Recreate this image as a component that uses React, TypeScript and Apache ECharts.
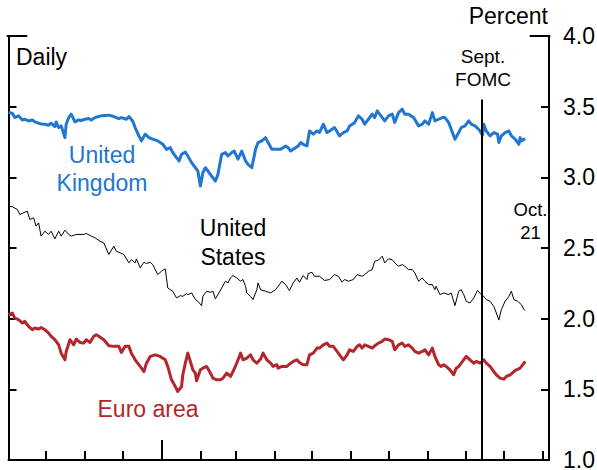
import React, { useEffect, useRef } from 'react';
import * as echarts from 'echarts';

// x axis: calendar days counted from the first month start shown
const monthTickDays = [30, 61, 91, 153, 181, 212, 242, 273, 303, 334, 365, 395, 426];
const yearTickDays = [122];
const axisMaxDay = 431;
const fomcDay = 377.5;
const fomcTop = 3.55;
const yMin = 1.0;
const yMax = 4.0;
const yStep = 0.5;

const ukDays = [0,3,5,8,11,13,16,19,21,24,26,29,32,34,37,38,40,42,45,46,48,50,53,56,58,61,64,66,69,74,80,84,88,90,94,96,99,101,104,106,109,112,115,119,123,126,129,131,134,136,138,141,143,146,149,151,153,155,157,159,162,165,167,170,173,175,178,180,183,186,189,191,194,197,199,202,205,207,210,213,217,221,223,225,227,231,233,235,238,240,243,246,248,251,254,256,260,264,267,270,272,276,279,282,284,287,290,292,294,297,300,303,306,308,311,314,316,319,323,327,330,332,335,338,340,343,346,348,351,353,356,359,361,364,367,369,372,375,378,379,381,384,387,390,391,393,396,399,401,404,407,408,409,412];
const ukValues = [3.458,3.454,3.423,3.435,3.406,3.411,3.399,3.406,3.392,3.383,3.378,3.376,3.369,3.383,3.359,3.392,3.352,3.364,3.281,3.376,3.423,3.447,3.392,3.406,3.402,3.411,3.416,3.406,3.423,3.435,3.44,3.43,3.416,3.423,3.411,3.43,3.399,3.352,3.293,3.258,3.305,3.281,3.27,3.258,3.234,3.198,3.21,3.175,3.139,3.116,3.163,3.178,3.151,3.104,3.068,3.045,2.938,3.033,3.068,3.045,3.009,2.974,3.021,3.163,3.175,3.151,3.175,3.186,3.128,3.186,3.116,3.092,3.068,3.198,3.246,3.258,3.281,3.246,3.198,3.198,3.198,3.222,3.21,3.186,3.198,3.222,3.246,3.234,3.222,3.328,3.305,3.328,3.317,3.376,3.317,3.328,3.352,3.293,3.317,3.328,3.364,3.387,3.435,3.411,3.376,3.411,3.447,3.423,3.47,3.435,3.399,3.435,3.447,3.388,3.458,3.482,3.447,3.447,3.423,3.364,3.376,3.399,3.376,3.458,3.399,3.411,3.423,3.423,3.388,3.34,3.269,3.317,3.352,3.364,3.4,3.376,3.364,3.34,3.298,3.376,3.328,3.293,3.317,3.305,3.246,3.293,3.317,3.328,3.293,3.27,3.234,3.281,3.258,3.274];

const usDays = [0,3,7,9,12,15,17,20,22,24,26,29,32,34,37,40,42,45,48,50,54,60,62,66,69,73,76,80,84,86,89,92,96,98,101,102,105,108,110,113,115,119,122,125,127,129,131,134,137,139,142,143,146,149,151,154,155,158,161,163,165,167,170,173,175,177,179,182,185,187,189,190,193,195,198,199,201,205,209,213,215,218,221,224,227,230,232,235,238,239,242,244,248,252,256,260,263,266,268,271,275,278,282,284,287,290,292,295,296,298,300,303,306,308,311,314,316,319,322,324,327,330,332,335,338,340,341,344,347,351,353,356,359,361,363,365,368,371,374,377,379,381,384,387,389,391,393,396,399,401,403,406,409,411,412];
const usValues = [2.795,2.792,2.773,2.737,2.749,2.761,2.702,2.714,2.655,2.678,2.584,2.619,2.596,2.619,2.565,2.619,2.584,2.626,2.596,2.584,2.596,2.596,2.603,2.584,2.572,2.548,2.536,2.454,2.513,2.477,2.466,2.454,2.395,2.418,2.395,2.423,2.36,2.399,2.39,2.399,2.383,2.312,2.336,2.352,2.217,2.205,2.194,2.147,2.163,2.158,2.177,2.17,2.182,2.135,2.123,2.092,2.158,2.194,2.187,2.194,2.14,2.17,2.217,2.265,2.253,2.288,2.305,2.288,2.265,2.277,2.229,2.182,2.158,2.135,2.205,2.253,2.205,2.194,2.182,2.205,2.229,2.265,2.241,2.198,2.253,2.288,2.258,2.305,2.277,2.319,2.328,2.3,2.3,2.27,2.277,2.312,2.3,2.258,2.277,2.265,2.277,2.312,2.3,2.312,2.335,2.347,2.406,2.414,2.423,2.442,2.395,2.423,2.418,2.395,2.371,2.383,2.371,2.347,2.347,2.324,2.265,2.288,2.265,2.241,2.241,2.205,2.229,2.17,2.182,2.17,2.182,2.092,2.194,2.205,2.17,2.123,2.111,2.146,2.2,2.17,2.158,2.135,2.123,2.087,2.04,1.99,2.064,2.123,2.158,2.194,2.135,2.123,2.099,2.064,2.06];

const euroDays = [0,3,5,8,11,13,16,19,21,24,26,29,32,34,37,40,42,45,46,49,52,54,57,60,62,65,68,70,72,76,80,84,88,90,93,96,98,101,105,108,110,113,117,121,125,127,130,133,135,138,139,141,143,145,147,149,150,153,155,158,161,163,166,169,171,174,177,179,182,185,187,190,193,195,198,201,203,206,209,211,214,215,218,222,225,227,230,232,235,238,240,243,246,248,251,254,256,259,262,264,267,270,272,275,278,280,282,284,287,290,292,295,298,300,303,306,308,311,314,316,319,322,324,327,330,332,335,338,340,343,345,347,349,352,355,357,359,361,365,368,371,373,376,379,381,384,387,389,392,395,397,400,403,405,408,411,412];
const euroValues = [2.028,2.04,2.004,1.993,1.969,1.981,1.945,1.922,1.934,1.927,1.938,1.922,1.898,1.875,1.851,1.815,1.756,1.709,1.768,1.851,1.815,1.856,1.832,1.827,1.851,1.832,1.875,1.886,1.875,1.851,1.808,1.804,1.804,1.761,1.804,1.804,1.756,1.709,1.662,1.626,1.685,1.733,1.744,1.733,1.709,1.662,1.567,1.52,1.485,1.52,1.603,1.685,1.756,1.697,1.638,1.615,1.56,1.638,1.65,1.662,1.615,1.579,1.567,1.567,1.579,1.615,1.591,1.626,1.685,1.756,1.709,1.721,1.744,1.709,1.685,1.714,1.756,1.709,1.685,1.662,1.674,1.65,1.662,1.662,1.685,1.697,1.709,1.69,1.674,1.674,1.744,1.756,1.792,1.792,1.815,1.827,1.804,1.804,1.768,1.744,1.709,1.744,1.78,1.768,1.804,1.815,1.792,1.815,1.804,1.792,1.808,1.827,1.839,1.856,1.851,1.839,1.78,1.815,1.827,1.804,1.815,1.792,1.768,1.756,1.768,1.78,1.744,1.792,1.733,1.674,1.662,1.674,1.662,1.638,1.603,1.65,1.662,1.685,1.733,1.709,1.685,1.697,1.685,1.709,1.685,1.662,1.626,1.603,1.579,1.572,1.591,1.603,1.626,1.638,1.65,1.685,1.698];

const FONT = '"Liberation Sans", Arial, Helvetica, sans-serif';
const BLUE = '#2176d2';
const RED = '#b3262b';

const pairs = (xs: number[], ys: number[]) => xs.map((x, i) => [x, ys[i]]);

export default function App() {
  const ref = useRef<HTMLDivElement>(null);
  useEffect(() => {
    if (!ref.current) return;
    const chart = echarts.init(ref.current, null, { renderer: 'svg' });
    const tickLine = { color: '#000', width: 2 };
    const noBounds = { containLabel: false, outerBoundsMode: 'none' };
    const baseY = {
      type: 'value',
      min: yMin,
      max: yMax,
      splitLine: { show: false },
    };
    // small frame segments (caps) at the top of both vertical axes
    const capAxis = (gridIndex: number) => ({
      gridIndex, type: 'value', min: 0, max: 1, position: 'top',
      axisLine: { show: true, onZero: false, lineStyle: { color: '#000', width: 2 } },
      axisTick: { show: false }, axisLabel: { show: false }, splitLine: { show: false },
    });
    const hiddenY = (gridIndex: number) => ({ gridIndex, type: 'value', min: 0, max: 1, show: false });
    const option: any = {
      animation: false,
      grid: [
        { left: 8.5, right: 48, top: 36, bottom: 10, ...noBounds },
        { left: 7.5, top: 36, width: 19, height: 10, ...noBounds },
        { right: 47.5, top: 36, width: 19, height: 10, ...noBounds },
      ],
      xAxis: [
        {
          gridIndex: 0, type: 'value', min: 0, max: axisMaxDay, position: 'bottom',
          axisLine: { show: true, lineStyle: { color: '#000', width: 2 } },
          axisTick: { show: true, inside: true, length: 9, lineStyle: tickLine, customValues: monthTickDays },
          axisLabel: { show: false }, splitLine: { show: false },
        },
        {
          gridIndex: 0, type: 'value', min: 0, max: axisMaxDay, position: 'bottom',
          axisLine: { show: false },
          axisTick: { show: true, inside: true, length: 20, lineStyle: tickLine, customValues: yearTickDays },
          axisLabel: { show: false }, splitLine: { show: false },
        },
        capAxis(1),
        capAxis(2),
      ],
      yAxis: [
        {
          ...baseY, gridIndex: 0, position: 'right', interval: yStep,
          axisLine: { show: true, onZero: false, lineStyle: { color: '#000', width: 2 } },
          axisTick: { show: true, inside: true, length: 8, lineStyle: tickLine },
          axisLabel: { show: true, inside: false, margin: 14, color: '#000', fontSize: 23, lineHeight: 20, fontFamily: FONT, formatter: (v: number) => v.toFixed(1) },
        },
        {
          ...baseY, gridIndex: 0, position: 'left', interval: yStep,
          axisLine: { show: true, onZero: false, lineStyle: { color: '#000', width: 2 } },
          axisTick: { show: true, inside: true, length: 8, lineStyle: tickLine },
          axisLabel: { show: false },
        },
        hiddenY(1),
        hiddenY(2),
      ],
      series: [
        {
          name: 'United States', type: 'line', xAxisIndex: 0, yAxisIndex: 0, data: pairs(usDays, usValues), showSymbol: false, symbol: 'none',
          lineStyle: { color: '#000', width: 1 }, itemStyle: { color: '#000' }, z: 2,
        },
        {
          name: 'Euro area', type: 'line', xAxisIndex: 0, yAxisIndex: 0, data: pairs(euroDays, euroValues), showSymbol: false, symbol: 'none',
          lineStyle: { color: RED, width: 3, join: 'round' }, itemStyle: { color: RED }, z: 3,
        },
        {
          name: 'United Kingdom', type: 'line', xAxisIndex: 0, yAxisIndex: 0, data: pairs(ukDays, ukValues), showSymbol: false, symbol: 'none',
          lineStyle: { color: BLUE, width: 3, join: 'round' }, itemStyle: { color: BLUE }, z: 4,
          markLine: {
            symbol: ['none', 'none'], silent: true, label: { show: false },
            lineStyle: { color: '#000', width: 2, type: 'solid' },
            emphasis: { disabled: true },
            data: [[{ coord: [fomcDay, fomcTop] }, { coord: [fomcDay, yMin] }]],
          },
        },
      ],
      graphic: [
        { type: 'text', x: 16, y: 57, style: { text: 'Daily', fill: '#000', fontSize: 23, fontFamily: FONT, align: 'left', verticalAlign: 'middle' } },
        { type: 'text', x: 548, y: 16, style: { text: 'Percent', fill: '#000', fontSize: 23, fontFamily: FONT, align: 'right', verticalAlign: 'middle' } },
        { type: 'text', x: 102, y: 169, style: { text: 'United\nKingdom', fill: BLUE, fontSize: 23, fontFamily: FONT, align: 'center', verticalAlign: 'middle', lineHeight: 28.6 } },
        { type: 'text', x: 233, y: 242.5, style: { text: 'United\nStates', fill: '#000', fontSize: 23, fontFamily: FONT, align: 'center', verticalAlign: 'middle', lineHeight: 28.4 } },
        { type: 'text', x: 148, y: 409, style: { text: 'Euro area', fill: RED, fontSize: 23, fontFamily: FONT, align: 'center', verticalAlign: 'middle' } },
        { type: 'text', x: 483, y: 68.3, style: { text: 'Sept.\nFOMC', fill: '#000', fontSize: 19, fontFamily: FONT, align: 'center', verticalAlign: 'middle', lineHeight: 23.3 } },
        { type: 'text', x: 530.5, y: 221, style: { text: 'Oct.\n21', fill: '#000', fontSize: 18.5, fontFamily: FONT, align: 'center', verticalAlign: 'middle', lineHeight: 23 } },
      ],
    };
    chart.setOption(option);
    return () => chart.dispose();
  }, []);
  return (
    <div
      ref={ref}
      style={{ position: 'fixed', left: 0, top: 0, width: 597, height: 470, background: '#fff' }}
    />
  );
}
